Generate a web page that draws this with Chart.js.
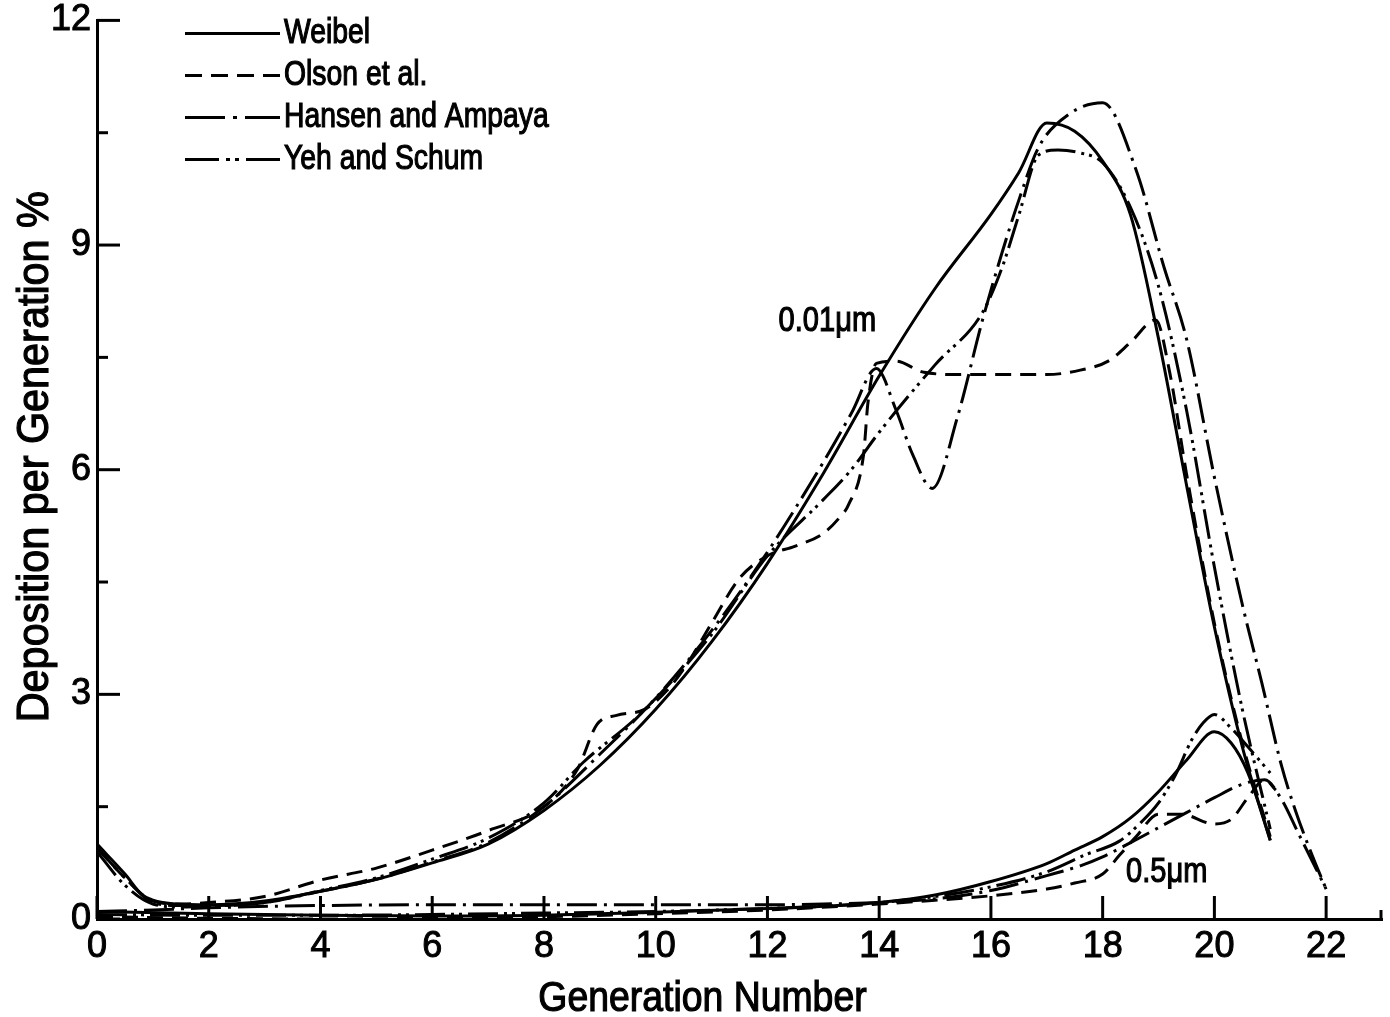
<!DOCTYPE html>
<html lang="en">
<head>
    <meta charset="UTF-8">
    <title>Deposition per Generation</title>
    <script src="https://cdn.jsdelivr.net/npm/chart.js"></script>
    <style>
        body {
            margin: 0;
            background: #fff;
        }
        #wrap {
            width: 1390px;
            height: 1017px;
        }
    </style>
</head>
<body>
    <div id="wrap">
        <canvas id="depChart" width="1390" height="1017"></canvas>
    </div>

    <script>
        // axis ticks
        const genTicks = [0, 2, 4, 6, 8, 10, 12, 14, 16, 18, 20, 22];
        const depTicks = [0, 3, 6, 9, 12];
        const depMinorTicks = [1.5, 4.5, 7.5, 10.5];

        // 0.01 um particles
        const weibelFineGen = [0, 0.5, 0.8, 1, 1.4, 2, 3, 4, 5, 6, 7, 8, 9, 10, 11, 12, 13, 14, 15, 16, 16.5, 17, 17.5, 18, 18.5, 19, 19.5, 20, 20.5, 21];
        const weibelFineDep = [1.0, 0.6, 0.33, 0.25, 0.2, 0.19, 0.24, 0.37, 0.53, 0.75, 1.0, 1.45, 2.05, 2.8, 3.7, 4.75, 5.95, 7.25, 8.42, 9.41, 9.97, 10.63, 10.52, 10.12, 9.4, 7.75, 5.8, 3.9, 2.3, 1.05];

        const olsonFineGen = [0, 0.5, 1, 1.5, 2, 3, 4, 5, 6, 7, 8, 8.6, 8.95, 9.3, 9.8, 10.2, 10.6, 11, 11.5, 12, 12.5, 13, 13.3, 13.45, 13.72, 13.8, 13.95, 14.3, 14.8, 15.5, 17, 17.6, 18.1, 18.5, 18.95, 19.2, 19.5, 20, 20.5, 21];
        const olsonFineDep = [0.95, 0.55, 0.24, 0.2, 0.22, 0.3, 0.52, 0.68, 0.92, 1.18, 1.5, 2.0, 2.6, 2.72, 2.8, 3.05, 3.45, 3.95, 4.55, 4.85, 4.98, 5.15, 5.37, 5.53, 6.2, 6.9, 7.42, 7.45, 7.3, 7.27, 7.27, 7.33, 7.45, 7.7, 8.0, 7.3, 5.95, 3.95, 2.35, 1.1];

        const hansenFineGen = [0, 0.5, 1, 1.5, 2, 3, 4, 5, 6, 7, 8, 9, 10, 11, 12, 13, 13.5, 13.95, 14.3, 14.6, 14.95, 15.4, 15.85, 16.2, 16.5, 16.85, 17.4, 18, 18.6, 19.1, 19.5, 20, 20.5, 20.85, 21.2, 21.45, 21.75, 22];
        const hansenFineDep = [0.95, 0.55, 0.22, 0.18, 0.18, 0.22, 0.37, 0.53, 0.76, 1.02, 1.5, 2.2, 2.95, 3.85, 4.9, 6.1, 6.75, 7.35, 6.8, 6.2, 5.75, 6.7, 8.0, 8.9, 9.6, 10.3, 10.75, 10.9, 10.0, 8.7, 7.75, 5.9, 4.2, 3.15, 2.05, 1.45, 0.85, 0.4];

        const yehFineGen = [0, 0.5, 1, 1.5, 2, 3, 4, 5, 6, 7, 8, 8.7, 9.7, 11, 12, 13, 13.5, 14, 15, 15.85, 16.2, 16.5, 16.85, 17.2, 17.6, 18, 18.5, 19, 19.5, 20, 20.5, 21];
        const yehFineDep = [0.9, 0.45, 0.2, 0.16, 0.17, 0.22, 0.38, 0.55, 0.8, 1.08, 1.55, 2.09, 2.72, 3.8, 4.85, 5.6, 6.0, 6.5, 7.4, 8.1, 8.7, 9.4, 10.2, 10.27, 10.23, 10.1, 9.5, 8.45, 6.8, 4.7, 2.8, 1.2];

        // 0.5 um particles
        const weibelCoarseGen = [0, 2, 4, 6, 8, 10, 12, 13, 14, 15, 16, 17, 17.5, 18, 18.5, 19, 19.5, 20, 20.3, 20.6, 21];
        const weibelCoarseDep = [0.1, 0.07, 0.05, 0.04, 0.05, 0.09, 0.14, 0.17, 0.22, 0.32, 0.5, 0.74, 0.92, 1.1, 1.35, 1.7, 2.12, 2.5, 2.35, 1.95, 1.05];

        const olsonCoarseGen = [0, 2, 4, 6, 8, 10, 12, 14, 15, 16, 17, 17.5, 18, 18.3, 18.6, 19, 19.4, 20, 20.3, 20.6, 20.9, 21.1];
        const olsonCoarseDep = [0.03, 0.01, 0.0, 0.01, 0.03, 0.07, 0.12, 0.2, 0.25, 0.31, 0.4, 0.48, 0.6, 0.85, 1.1, 1.4, 1.4, 1.27, 1.33, 1.62, 1.86, 1.72];

        const hansenCoarseGen = [0, 1, 2, 4, 6, 8, 10, 12, 13, 14, 15, 16, 17, 17.6, 18, 18.5, 19, 19.5, 20, 20.5, 20.9, 21.2, 21.5, 21.8, 22];
        const hansenCoarseDep = [0.1, 0.12, 0.15, 0.18, 0.19, 0.19, 0.19, 0.19, 0.2, 0.22, 0.27, 0.38, 0.58, 0.71, 0.83, 1.02, 1.22, 1.42, 1.62, 1.8, 1.86, 1.6, 1.15, 0.7, 0.4];

        const yehCoarseGen = [0, 2, 4, 6, 8, 10, 12, 13, 14, 15, 16, 17, 17.7, 18.3, 18.7, 19, 19.3, 19.6, 19.8, 20, 20.3, 20.6, 21];
        const yehCoarseDep = [0.06, 0.05, 0.05, 0.06, 0.08, 0.1, 0.14, 0.17, 0.22, 0.3, 0.43, 0.63, 0.86, 1.04, 1.3, 1.55, 1.92, 2.4, 2.62, 2.73, 2.55, 2.3, 1.95];

        const modelNames = ['Weibel', 'Olson et al.', 'Hansen and Ampaya', 'Yeh and Schum'];

        const FONT = "'Liberation Sans', Arial, sans-serif";

        const dashes = {
            solid: [],
            dash: [16, 9],
            dashDot: [30, 7, 3, 7],
            dashDotDot: [30, 6, 3, 5, 3, 6]
        };
        const legendDashes = [[], [17, 9, 17, 9, 17, 9, 17], [40, 8, 4, 8, 40], [34, 7, 4, 5, 4, 7, 40]];

        function pts(gens, deps) {
            return gens.map((g, i) => ({ x: g, y: deps[i] }));
        }

        function series(label, gens, deps, dash) {
            return {
                label: label,
                data: pts(gens, deps),
                borderColor: '#000',
                borderWidth: 3,
                borderDash: dash,
                borderCapStyle: 'butt',
                pointRadius: 0,
                fill: false,
                cubicInterpolationMode: 'monotone'
            };
        }

        // narrow lettering: squeeze text horizontally and thicken a little
        function letter(ctx, text, x, y, size, squeeze, align, angle) {
            ctx.save();
            ctx.translate(x, y);
            if (angle) ctx.rotate(angle);
            ctx.scale(squeeze, 1);
            ctx.font = size + 'px ' + FONT;
            ctx.textAlign = align;
            ctx.textBaseline = 'middle';
            ctx.lineWidth = 1.2;
            ctx.fillText(text, 0, 0);
            ctx.strokeText(text, 0, 0);
            ctx.restore();
        }

        // legend, titles, size labels and inward tick marks
        const inkPlugin = {
            id: 'ink',
            afterDraw(chart) {
                const ctx = chart.ctx;
                const area = chart.chartArea;
                const xs = chart.scales.x;
                const ys = chart.scales.y;

                ctx.save();
                ctx.strokeStyle = '#000';
                ctx.fillStyle = '#000';
                ctx.lineWidth = 3;
                ctx.setLineDash([]);

                genTicks.forEach(v => {
                    const px = xs.getPixelForValue(v);
                    ctx.beginPath();
                    ctx.moveTo(px, area.bottom);
                    ctx.lineTo(px, area.bottom - 23);
                    ctx.stroke();
                });
                ctx.beginPath();
                ctx.moveTo(area.right - 1, area.bottom);
                ctx.lineTo(area.right - 1, area.bottom - 9);
                ctx.stroke();

                depTicks.forEach(v => {
                    const py = ys.getPixelForValue(v);
                    ctx.beginPath();
                    ctx.moveTo(area.left, py);
                    ctx.lineTo(area.left + 23, py);
                    ctx.stroke();
                });
                depMinorTicks.forEach(v => {
                    const py = ys.getPixelForValue(v);
                    ctx.beginPath();
                    ctx.moveTo(area.left, py);
                    ctx.lineTo(area.left + 11, py);
                    ctx.stroke();
                });

                // legend
                modelNames.forEach((name, i) => {
                    const ly = area.top + 13 + i * 42;
                    const lx = area.left + 88;
                    ctx.lineWidth = 3;
                    ctx.setLineDash(legendDashes[i]);
                    ctx.beginPath();
                    ctx.moveTo(lx, ly);
                    ctx.lineTo(lx + 95, ly);
                    ctx.stroke();
                    ctx.setLineDash([]);
                    letter(ctx, name, lx + 99, ly, 35, 0.81, 'left', 0);
                });

                // particle size labels
                letter(ctx, '0.01\u03bcm', xs.getPixelForValue(12.2), ys.getPixelForValue(7.98), 35, 0.83, 'left', 0);
                letter(ctx, '0.5\u03bcm', xs.getPixelForValue(18.42), ys.getPixelForValue(0.62), 35, 0.83, 'left', 0);

                // axis titles
                letter(ctx, 'Generation Number', (area.left + area.right) / 2 - 37, 999, 42, 0.89, 'center', 0);
                letter(ctx, 'Deposition per Generation %', 36, (area.top + area.bottom) / 2 - 13, 44, 0.94, 'center', -Math.PI / 2);
                ctx.restore();
            }
        };

        const ctx = document.getElementById('depChart').getContext('2d');
        const depChart = new Chart(ctx, {
            type: 'line',
            data: {
                datasets: [
                    series('Weibel 0.01', weibelFineGen, weibelFineDep, dashes.solid),
                    series('Olson 0.01', olsonFineGen, olsonFineDep, dashes.dash),
                    series('Hansen 0.01', hansenFineGen, hansenFineDep, dashes.dashDot),
                    series('Yeh 0.01', yehFineGen, yehFineDep, dashes.dashDotDot),
                    series('Weibel 0.5', weibelCoarseGen, weibelCoarseDep, dashes.solid),
                    series('Olson 0.5', olsonCoarseGen, olsonCoarseDep, dashes.dash),
                    series('Hansen 0.5', hansenCoarseGen, hansenCoarseDep, dashes.dashDot),
                    series('Yeh 0.5', yehCoarseGen, yehCoarseDep, dashes.dashDotDot)
                ]
            },
            options: {
                responsive: false,
                animation: false,
                layout: {
                    padding: { top: 20, right: 8, left: 0, bottom: 0 }
                },
                plugins: {
                    legend: { display: false },
                    tooltip: { enabled: false }
                },
                scales: {
                    x: {
                        type: 'linear',
                        min: 0,
                        max: 23,
                        afterFit(scale) { scale.height = 98; },
                        afterBuildTicks(scale) { scale.ticks = genTicks.map(v => ({ value: v })); },
                        grid: { display: false, drawTicks: false },
                        border: { display: true, color: '#000', width: 3 },
                        ticks: {
                            color: '#000',
                            padding: 14,
                            maxRotation: 0,
                            autoSkip: false,
                            textStrokeColor: '#000',
                            textStrokeWidth: 1,
                            font: { family: FONT, size: 36, lineHeight: 0.8 }
                        }
                    },
                    y: {
                        min: 0,
                        max: 12,
                        afterFit(scale) { scale.width = 97; },
                        afterBuildTicks(scale) { scale.ticks = depTicks.map(v => ({ value: v })); },
                        grid: { display: false, drawTicks: false },
                        border: { display: true, color: '#000', width: 3 },
                        ticks: {
                            color: '#000',
                            padding: 6,
                            autoSkip: false,
                            textStrokeColor: '#000',
                            textStrokeWidth: 1,
                            font: { family: FONT, size: 36, lineHeight: 0.8 }
                        }
                    }
                }
            },
            plugins: [inkPlugin]
        });
    </script>
</body>
</html>
